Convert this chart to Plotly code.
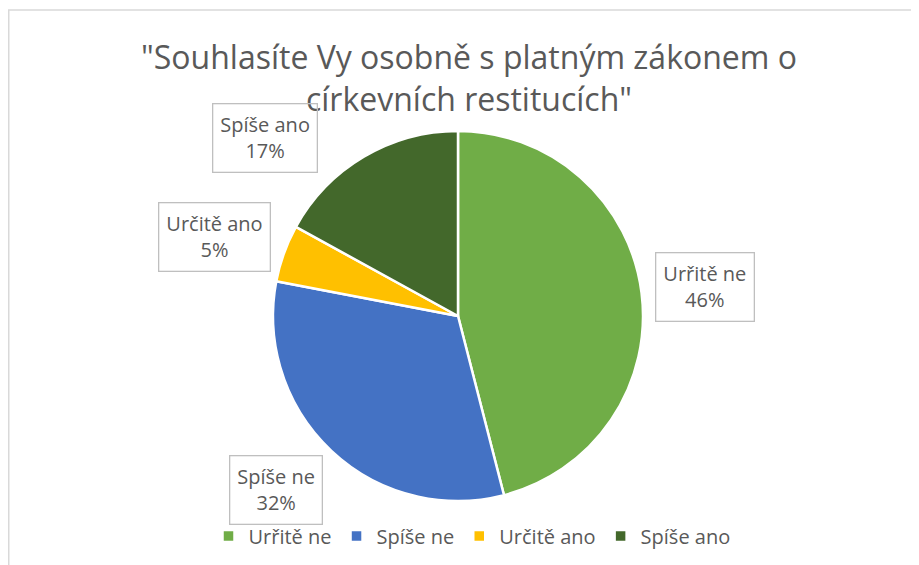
import plotly.graph_objects as go

# Data
categories = ["Urřitě ne", "Spíše ne", "Určitě ano", "Spíše ano"]
values = [46, 32, 5, 17]
colors = ["#70AD47", "#4472C4", "#FFC000", "#43682B"]
title_text = "\"Souhlasíte Vy osobně s platným zákonem o<br>církevních restitucích\""

W, H = 919, 565
OFF = 8  # page body margin offset
FONT = "Open Sans"
GRAY = "#595959"


def fx(px):
    return (px - OFF) / W


def fy(py):
    return 1 - (py - OFF) / H


fig = go.Figure()
fig.add_trace(go.Pie(
    labels=categories,
    values=values,
    marker=dict(colors=colors, line=dict(color="white", width=2.5)),
    sort=False,
    direction="clockwise",
    rotation=0,
    textinfo="none",
    hoverinfo="label+percent",
    domain=dict(x=[fx(273), fx(643)], y=[fy(501), fy(131)]),
))

# Label box positions (screen pixel centres) for each category
label_pos = {
    "Urřitě ne": (705, 287),
    "Spíše ne": (276, 490),
    "Určitě ano": (214, 237),
    "Spíše ano": (265, 138),
}
total = sum(values)
annotations = []
for cat, val in zip(categories, values):
    px, py = label_pos[cat]
    annotations.append(dict(
        x=fx(px), y=fy(py), xref="paper", yref="paper",
        xanchor="center", yanchor="middle", showarrow=False,
        text=f"{cat}<br>{round(val / total * 100)}%",
        font=dict(family=FONT, size=20, color=GRAY),
        bgcolor="rgba(255,255,255,0)", bordercolor="#BFBFBF", borderwidth=1.3, borderpad=7,
        height=53,
    ))

fig.update_layout(
    width=W, height=H,
    margin=dict(l=0, r=0, t=0, b=0),
    paper_bgcolor="white",
    plot_bgcolor="white",
    font=dict(family=FONT, color=GRAY),
    title=dict(text=title_text, x=fx(469), xanchor="center", y=fy(69), yanchor="middle",
               font=dict(family=FONT, size=32, color=GRAY)),
    annotations=annotations,
    legend=dict(orientation="h", x=fx(472), xanchor="center", y=fy(536), yanchor="middle",
                font=dict(family=FONT, size=20, color=GRAY), traceorder="normal",
                itemwidth=30),
    shapes=[dict(type="rect", xref="paper", yref="paper",
                 x0=0.0008, x1=1.02, y0=-0.02, y1=fy(10),
                 line=dict(color="#D9D9D9", width=1.5), fillcolor="rgba(0,0,0,0)", layer="below")],
)

fig.write_html("out.html")
